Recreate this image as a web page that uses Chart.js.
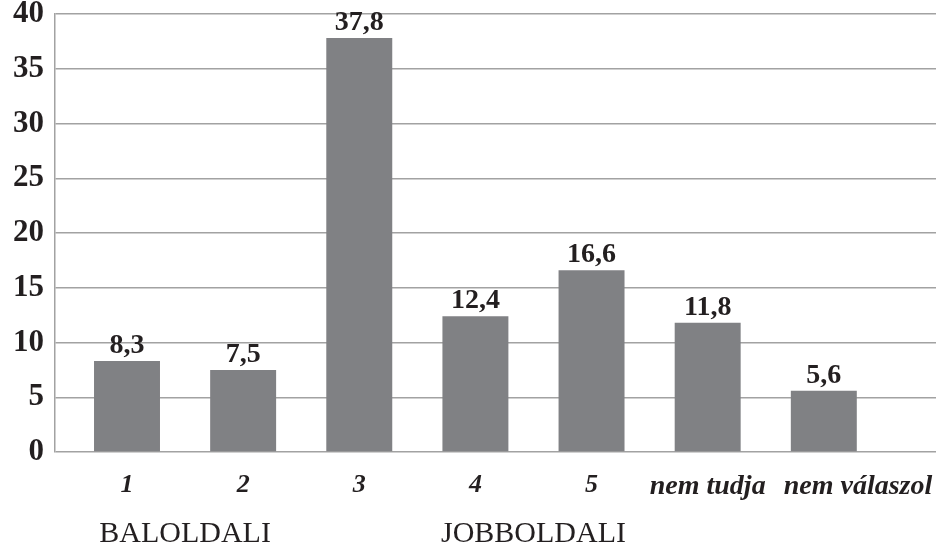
<!DOCTYPE html>
<html>
<head>
<meta charset="utf-8">
<script src="https://cdn.jsdelivr.net/npm/chart.js@4.4.1/dist/chart.umd.min.js"></script>
<style>
  html, body { margin: 0; padding: 0; background: #ffffff; }
  #wrap { width: 936px; height: 548px; position: relative; }
</style>
</head>
<body>
<div id="wrap"><canvas id="c"></canvas></div>
<script>
// ---- data ----
const categories = ['1', '2', '3', '4', '5', 'nem tudja', 'nem válaszol'];
const values = [8.3, 7.5, 37.8, 12.4, 16.6, 11.8, 5.6];
const yTicks = [0, 5, 10, 15, 20, 25, 30, 35, 40];
const groupLabels = ['BALOLDALI', 'JOBBOLDALI'];
const groupPositions = [0.5, 3.5]; // between categories 1–2 and 4–5

const FONT = '"Liberation Serif", "DejaVu Serif", serif';
const TEXT = '#231f20';
const GRID = '#a2a2a2';
const BAR = '#808184';

const xMin = -0.62, xMax = 6.966;
// the last (long) category label sits shifted right in the original
const labelShift = [0, 0, 0, 0, 0, 0, 0.294];

const valueLabels = {
  id: 'valueLabels',
  afterDatasetsDraw(chart) {
    const ctx = chart.ctx;
    const meta = chart.getDatasetMeta(0);
    ctx.save();
    ctx.font = 'bold 28px ' + FONT;
    ctx.fillStyle = TEXT;
    ctx.textAlign = 'center';
    ctx.textBaseline = 'alphabetic';
    meta.data.forEach((el, i) => {
      const txt = String(values[i]).replace('.', ',');
      ctx.fillText(txt, el.x, el.y - 8);
    });
    ctx.restore();
  }
};

const noSidePad = (scale, h) => {
  scale.height = h;
  scale.paddingLeft = 0;
  scale.paddingRight = 0;
};

new Chart(document.getElementById('c'), {
  type: 'bar',
  data: {
    datasets: [{
      data: values.map((v, i) => ({ x: i, y: v })),
      backgroundColor: BAR,
      borderWidth: 0,
      barPercentage: 0.568,
      categoryPercentage: 1.0
    }]
  },
  options: {
    responsive: true,
    maintainAspectRatio: false,
    animation: false,
    devicePixelRatio: 1,
    layout: { padding: { top: 14, right: 0, left: 0, bottom: 0 } },
    plugins: {
      legend: { display: false },
      tooltip: { enabled: false }
    },
    scales: {
      x: {
        type: 'linear',
        position: 'bottom',
        weight: 0,
        offset: false,
        min: xMin,
        max: xMax,
        grid: { display: false, drawTicks: false },
        border: { display: false },
        afterBuildTicks: (axis) => { axis.ticks = categories.map((c, i) => ({ value: i + labelShift[i] })); },
        afterFit: (scale) => noSidePad(scale, 50),
        ticks: {
          padding: 18,
          autoSkip: false,
          maxRotation: 0,
          color: TEXT,
          callback: (value, index) => categories[index] ?? '',
          font: (ctx) => {
            const lbl = categories[ctx.index] || '';
            const isNum = /^\d+$/.test(lbl);
            return { family: FONT, size: isNum ? 26 : 28, style: 'italic', weight: 'bold' };
          }
        }
      },
      x2: {
        type: 'linear',
        position: 'bottom',
        weight: 1,
        offset: false,
        min: xMin,
        max: xMax,
        grid: { display: false, drawTicks: false },
        border: { display: false },
        afterBuildTicks: (axis) => { axis.ticks = groupPositions.map(v => ({ value: v })); },
        afterFit: (scale) => noSidePad(scale, 46),
        ticks: {
          padding: 14,
          autoSkip: false,
          maxRotation: 0,
          color: TEXT,
          callback: (value, index) => groupLabels[index] ?? '',
          font: { family: FONT, size: 30, weight: 'normal' }
        }
      },
      y: {
        type: 'linear',
        min: 0,
        max: 40,
        afterBuildTicks: (axis) => { axis.ticks = yTicks.map(v => ({ value: v })); },
        afterFit: (scale) => { scale.width = 55; scale.paddingTop = 0; scale.paddingBottom = 0; },
        grid: { color: GRID, lineWidth: 1.5, drawTicks: false },
        border: { display: true, color: GRID, width: 1.5 },
        ticks: {
          padding: 11,
          color: TEXT,
          font: { family: FONT, size: 31, weight: 'bold' }
        }
      }
    }
  },
  plugins: [valueLabels]
});
</script>
</body>
</html>
